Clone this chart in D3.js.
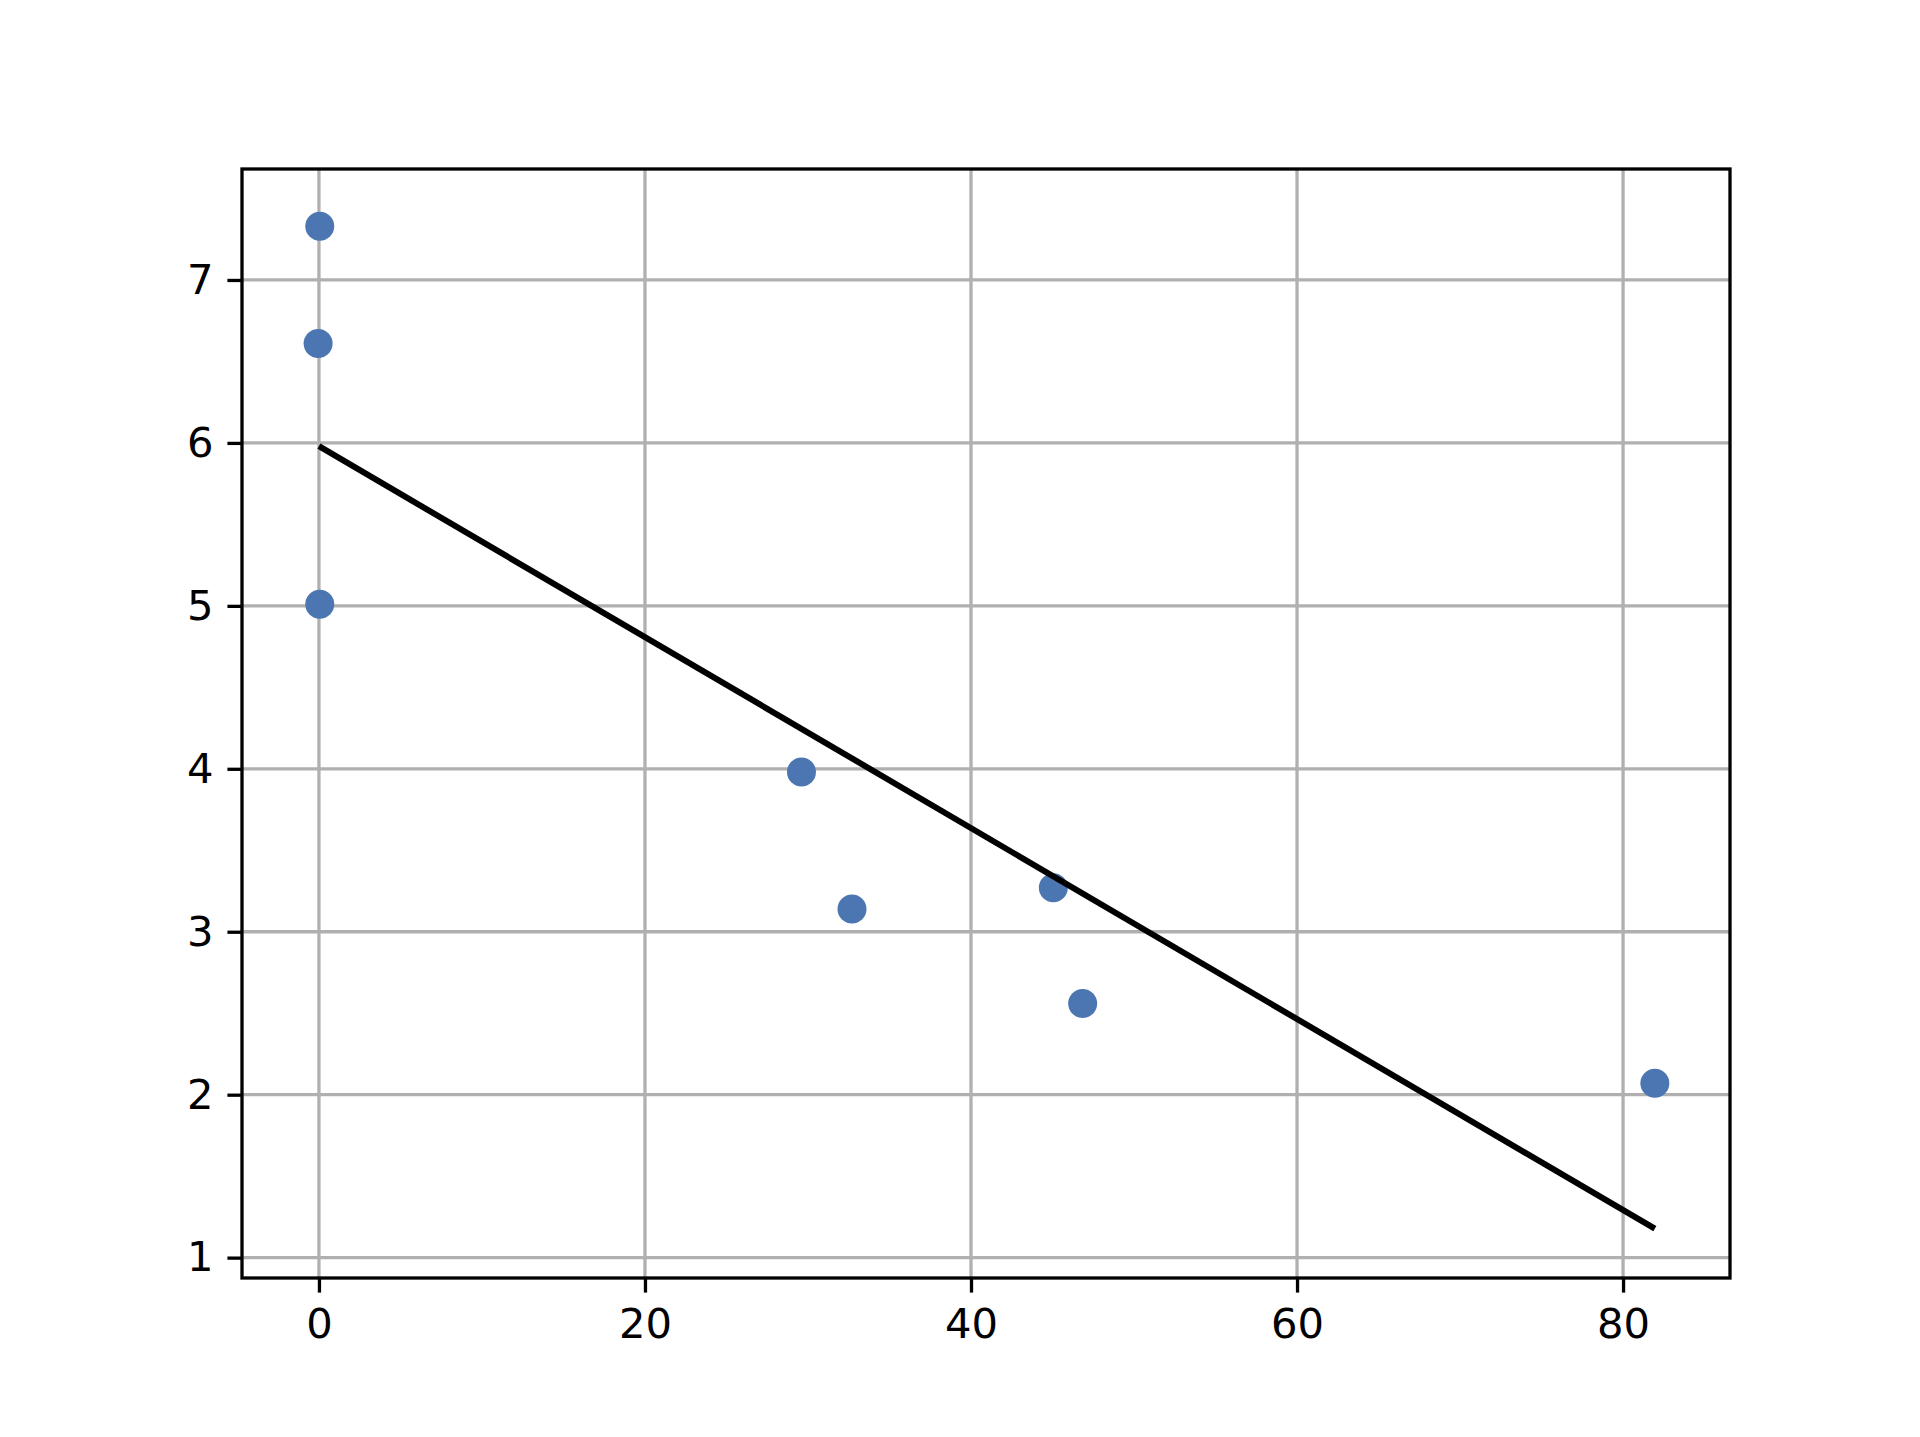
<!DOCTYPE html>
<html>
<head>
<meta charset="utf-8">
<script src="https://cdn.jsdelivr.net/npm/d3@7"></script>
<style>
  html, body { margin: 0; padding: 0; background: #fff; }
  svg { display: block; }
  text { font-family: "DejaVu Sans", sans-serif; }
</style>
</head>
<body>
<svg id="chart" width="1920" height="1437"></svg>
<script>
// scatter points
var xs = [0.05, -0.05, 0.05, 29.6, 32.7, 45.05, 46.85, 81.95];
var ys = [7.33, 6.61, 5.01, 3.98, 3.14, 3.27, 2.56, 2.07];

// fitted line end points
var lineX = [0, 81.95];
var lineY = [5.98, 1.178];

var xTicks = [0, 20, 40, 60, 80];
var yTicks = [1, 2, 3, 4, 5, 6, 7];

const plotLeft = 242, plotRight = 1730, plotTop = 169, plotBottom = 1278;

const svg = d3.select("#chart");

const x = d3.scaleLinear().domain([-4.72, 86.56]).range([plotLeft, plotRight]);
const y = d3.scaleLinear().domain([0.875, 7.681]).range([plotBottom, plotTop]);

// grid
const grid = svg.append("g").attr("stroke", "#b0b0b0").attr("stroke-width", 3.3);
grid.selectAll(".gx").data(xTicks).enter().append("line")
    .attr("x1", d => x(d)).attr("x2", d => x(d))
    .attr("y1", plotTop).attr("y2", plotBottom);
grid.selectAll(".gy").data(yTicks).enter().append("line")
    .attr("x1", plotLeft).attr("x2", plotRight)
    .attr("y1", d => y(d)).attr("y2", d => y(d));

// points
const pts = xs.map((d, i) => ({ x: d, y: ys[i] }));
svg.append("g").selectAll("circle")
    .data(pts)
    .enter().append("circle")
    .attr("cx", d => x(d.x))
    .attr("cy", d => y(d.y))
    .attr("r", 14.5)
    .style("fill", "#4c76b1");

// regression line
const line = d3.line().x(d => x(d[0])).y(d => y(d[1]));
svg.append("path")
    .datum(lineX.map((d, i) => [d, lineY[i]]))
    .attr("d", line)
    .attr("fill", "none")
    .attr("stroke", "#000")
    .attr("stroke-width", 6);

// axes
const xAxis = d3.axisBottom(x).tickValues(xTicks).tickSize(14.6).tickPadding(13).tickFormat(d3.format("d"));
const yAxis = d3.axisLeft(y).tickValues(yTicks).tickSize(14.6).tickPadding(14).tickFormat(d3.format("d"));

const gx = svg.append("g").attr("transform", `translate(0,${plotBottom})`).call(xAxis);
const gy = svg.append("g").attr("transform", `translate(${plotLeft},0)`).call(yAxis);

[gx, gy].forEach(function (g) {
    g.select(".domain").remove();
    g.selectAll(".tick line").attr("stroke", "#000").attr("stroke-width", 3.3);
    g.selectAll(".tick text")
        .attr("fill", "#000")
        .style("font-size", "41.7px")
        .style("font-family", "'DejaVu Sans', sans-serif");
});
gx.selectAll(".tick text").attr("dy", "0.78em");

// frame
svg.append("rect")
    .attr("x", plotLeft).attr("y", plotTop)
    .attr("width", plotRight - plotLeft).attr("height", plotBottom - plotTop)
    .attr("fill", "none")
    .attr("stroke", "#000")
    .attr("stroke-width", 3.3);
</script>
</body>
</html>
